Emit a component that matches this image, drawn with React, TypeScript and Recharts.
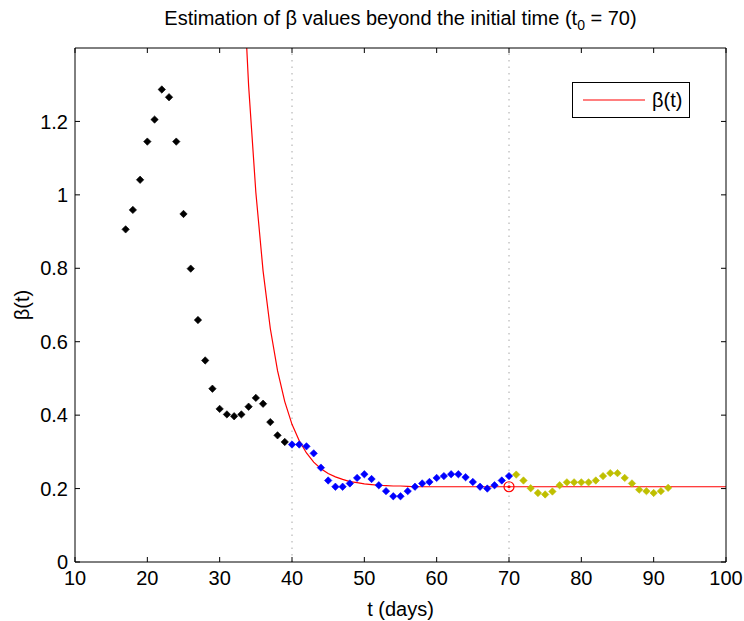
import React from "react";
import {
  ComposedChart,
  Line,
  Scatter,
  XAxis,
  YAxis,
  ReferenceLine,
  Legend,
} from "recharts";

const FONT = "'Liberation Sans', Arial, sans-serif";
const FS = 20;

const X_TICKS = [10, 20, 30, 40, 50, 60, 70, 80, 90, 100];
const Y_TICKS = [0, 0.2, 0.4, 0.6, 0.8, 1, 1.2];

// observed beta before the fitting window
const EARLY_T = [17, 18, 19, 20, 21, 22, 23, 24, 25, 26, 27, 28, 29, 30, 31, 32, 33, 34, 35, 36, 37, 38, 39];
const EARLY_BETA = [
  0.906, 0.959, 1.041, 1.145, 1.205, 1.287, 1.266, 1.145, 0.948, 0.799, 0.659, 0.549,
  0.472, 0.417, 0.402, 0.397, 0.402, 0.423, 0.447, 0.431, 0.381, 0.345, 0.327,
];

// fitting window (40..70)
const FIT_T = [40, 41, 42, 43, 44, 45, 46, 47, 48, 49, 50, 51, 52, 53, 54, 55, 56, 57, 58, 59, 60, 61, 62, 63, 64, 65, 66, 67, 68, 69, 70];
const FIT_BETA = [
  0.32, 0.32, 0.315, 0.296, 0.257, 0.222, 0.205, 0.205, 0.214, 0.229, 0.239, 0.226,
  0.209, 0.193, 0.179, 0.179, 0.193, 0.205, 0.214, 0.218, 0.229, 0.234, 0.239, 0.239,
  0.231, 0.218, 0.205, 0.2, 0.209, 0.222, 0.234,
];

// beyond t0
const AFTER_T = [71, 72, 73, 74, 75, 76, 77, 78, 79, 80, 81, 82, 83, 84, 85, 86, 87, 88, 89, 90, 91, 92];
const AFTER_BETA = [
  0.238, 0.222, 0.201, 0.188, 0.184, 0.192, 0.209, 0.217, 0.217, 0.217, 0.217, 0.222,
  0.234, 0.242, 0.242, 0.229, 0.214, 0.197, 0.193, 0.188, 0.193, 0.202,
];

// estimated beta(t) curve
const CURVE_T = [33, 34, 35, 36, 37, 38, 39, 40, 41, 42, 43, 44, 45, 46, 47, 48, 49, 50, 51, 52, 53, 54, 55, 56, 57, 100];
const CURVE_BETA = [
  1.695, 1.298, 1.007, 0.793, 0.636, 0.521, 0.437, 0.375, 0.33, 0.297, 0.272, 0.254,
  0.241, 0.232, 0.225, 0.219, 0.216, 0.213, 0.211, 0.209, 0.208, 0.207, 0.207, 0.206,
  0.205, 0.205,
];

const T0_POINT = [{ t: 70, beta: 0.205 }];
const GUIDE_T = [40, 70];

const zip = (ts: number[], vs: number[]) => ts.map((t, i) => ({ t, beta: vs[i] }));
const early = zip(EARLY_T, EARLY_BETA);
const fit = zip(FIT_T, FIT_BETA);
const after = zip(AFTER_T, AFTER_BETA);
const curve = zip(CURVE_T, CURVE_BETA);

const diamond = (color: string) => (props: any) => {
  const { cx, cy } = props;
  const r = 3.7;
  return (
    <polygon
      points={`${cx},${cy - r} ${cx + r},${cy} ${cx},${cy + r} ${cx - r},${cy}`}
      fill={color}
      stroke={color}
      strokeWidth={0.6}
    />
  );
};

const t0Marker = (props: any) => {
  const { cx, cy } = props;
  return (
    <g>
      <circle cx={cx} cy={cy} r={5} fill="none" stroke="#ff0000" strokeWidth={1.2} />
      <circle cx={cx} cy={cy} r={1.6} fill="#ff0000" />
    </g>
  );
};

const tickStyle = { fontSize: FS, fill: "#000", fontFamily: FONT };
const blank = () => "";

const renderLegend = () => (
  <div
    style={{
      width: 116,
      height: 34,
      border: "1px solid #000",
      background: "#fff",
      display: "flex",
      alignItems: "center",
      fontFamily: FONT,
      fontSize: FS,
      color: "#000",
    }}
  >
    <svg width={69} height={10} style={{ marginLeft: 10 }}>
      <line x1={0} y1={5} x2={62} y2={5} stroke="#ff0000" strokeWidth={1.2} />
    </svg>
    <span>β(t)</span>
  </div>
);

export default function App() {
  return (
    <div style={{ position: "absolute", left: 0, top: 0, width: 744, height: 621, background: "#fff" }}>
      <div
        style={{
          position: "absolute",
          left: 75,
          width: 651,
          top: 7,
          textAlign: "center",
          fontFamily: FONT,
          fontSize: FS,
          color: "#000",
          whiteSpace: "nowrap",
        }}
      >
        Estimation of β values beyond the initial time (t<sub style={{ fontSize: 14 }}>0</sub> = 70)
      </div>
      <ComposedChart
        width={744}
        height={621}
        margin={{ top: 47, right: 17, left: 0, bottom: 0 }}
      >
        <XAxis
          dataKey="t"
          type="number"
          domain={[10, 100]}
          ticks={X_TICKS}
          allowDataOverflow
          height={59}
          tickSize={-5}
          tickMargin={14}
          tick={tickStyle}
          axisLine={{ stroke: "#000" }}
          tickLine={{ stroke: "#000" }}
          label={{
            value: "t (days)",
            position: "insideBottom",
            offset: 5,
            style: { fontSize: FS, fill: "#000", fontFamily: FONT },
          }}
        />
        <XAxis
          xAxisId="top"
          orientation="top"
          dataKey="t"
          type="number"
          domain={[10, 100]}
          ticks={X_TICKS}
          allowDataOverflow
          height={1}
          tickSize={-5}
          tickFormatter={blank}
          axisLine={{ stroke: "#000" }}
          tickLine={{ stroke: "#000" }}
        />
        <YAxis
          type="number"
          domain={[0, 1.4]}
          ticks={Y_TICKS}
          allowDataOverflow
          width={75}
          tickSize={-5}
          tickMargin={12}
          tick={tickStyle}
          axisLine={{ stroke: "#000" }}
          tickLine={{ stroke: "#000" }}
          label={{
            content: (p: any) => {
              const vb = p.viewBox;
              const x = vb.x + 22;
              const y = vb.y + vb.height / 2;
              return (
                <text
                  x={x}
                  y={y}
                  dy={7}
                  transform={`rotate(-90 ${x} ${y})`}
                  textAnchor="middle"
                  style={{ fontSize: FS, fill: "#000", fontFamily: FONT }}
                >
                  β(t)
                </text>
              );
            },
          }}
        />
        <YAxis
          yAxisId="right"
          orientation="right"
          type="number"
          domain={[0, 1.4]}
          ticks={Y_TICKS}
          allowDataOverflow
          width={1}
          tickSize={-5}
          tickFormatter={blank}
          axisLine={{ stroke: "#000" }}
          tickLine={{ stroke: "#000" }}
        />
        {GUIDE_T.map((g) => (
          <ReferenceLine key={g} x={g} stroke="#a8a8a8" strokeDasharray="1.5 5" />
        ))}
        <Line
          data={curve}
          xAxisId="top"
          yAxisId="right"
          dataKey="beta"
          name="β(t)"
          type="linear"
          stroke="#ff0000"
          strokeWidth={1.2}
          dot={false}
          isAnimationActive={false}
        />
        <Scatter data={early} dataKey="beta" shape={diamond("#000000")} isAnimationActive={false} legendType="none" />
        <Scatter data={fit} dataKey="beta" shape={diamond("#0000ff")} isAnimationActive={false} legendType="none" />
        <Scatter data={after} dataKey="beta" shape={diamond("#bfbf00")} isAnimationActive={false} legendType="none" />
        <Scatter data={T0_POINT} dataKey="beta" shape={t0Marker} isAnimationActive={false} legendType="none" />
        <Legend
          layout="horizontal"
          verticalAlign="middle"
          content={renderLegend}
          wrapperStyle={{ left: 572, top: 82, width: 118, height: 36 }}
        />
      </ComposedChart>
    </div>
  );
}
